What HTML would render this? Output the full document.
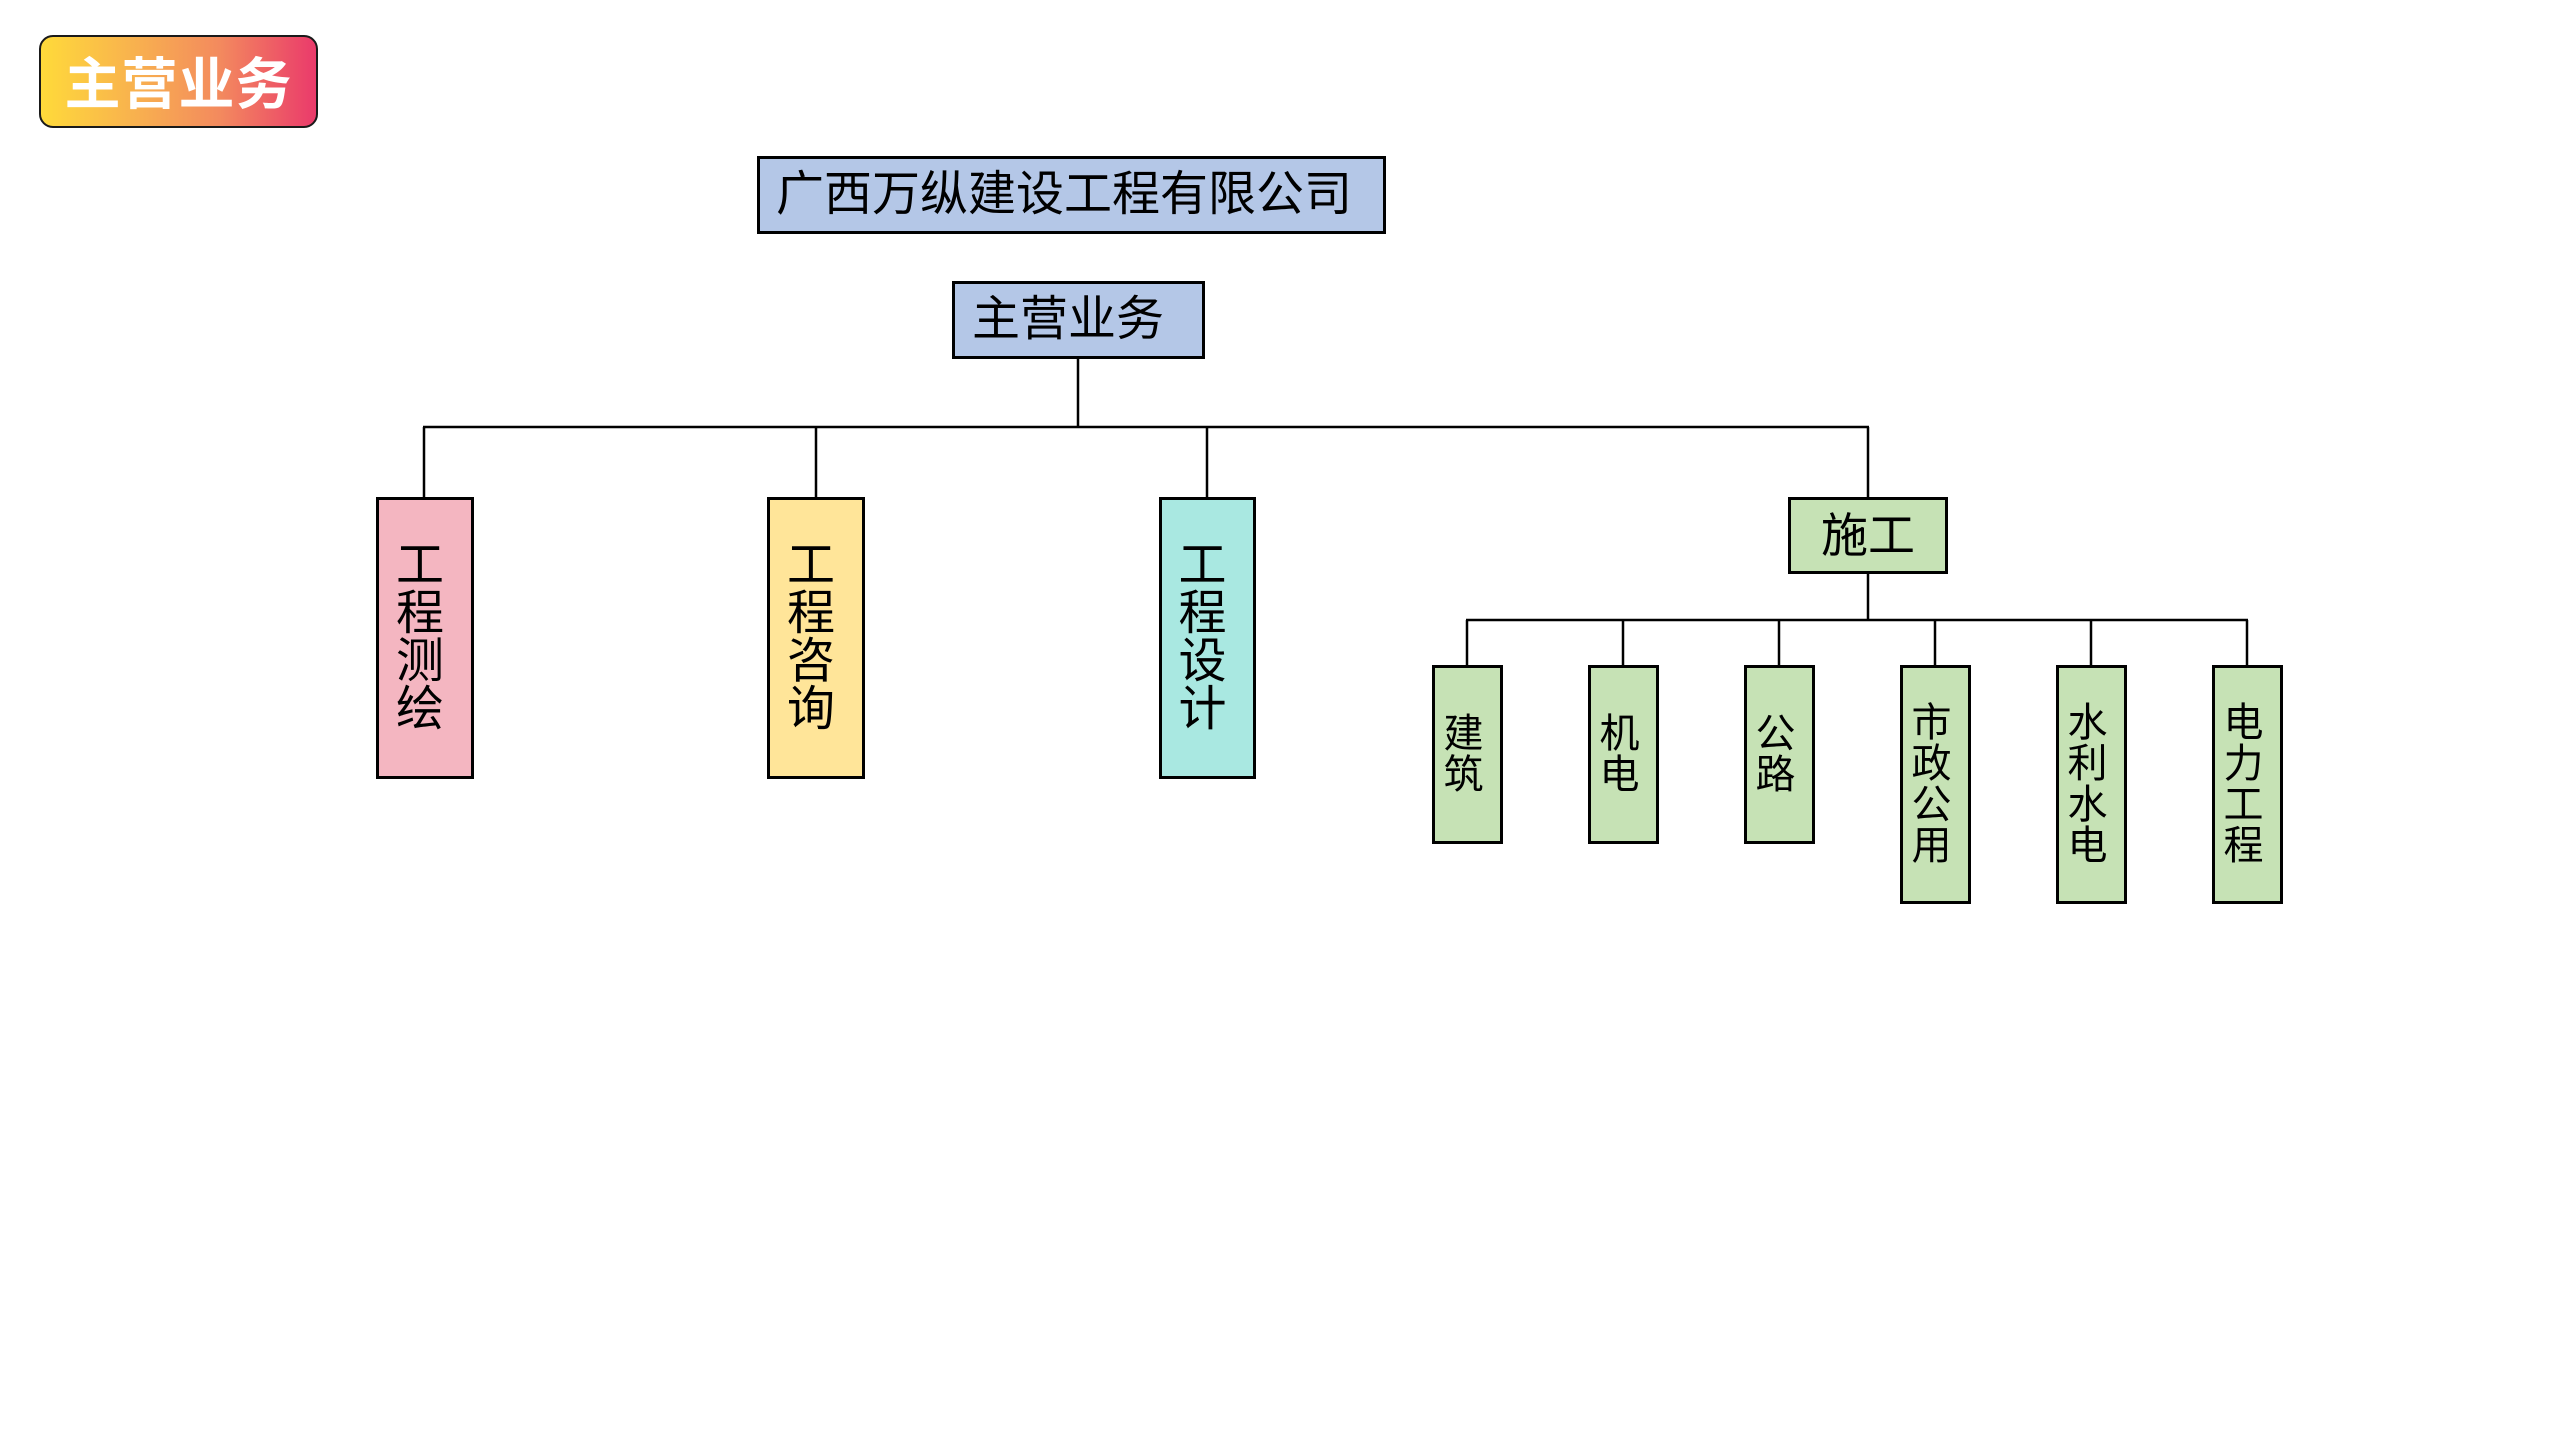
<!DOCTYPE html>
<html>
<head>
<meta charset="utf-8">
<style>
  html, body { margin:0; padding:0; background:#fff; }
  body { width:2560px; height:1440px; position:relative; overflow:hidden;
         font-family:"Liberation Sans","Noto Sans CJK SC",sans-serif; color:#000; }
  .box { position:absolute; box-sizing:border-box; border:3px solid #000; }
  .htext { position:absolute; display:flex; align-items:center; white-space:nowrap; line-height:1; }
  .vtext { position:absolute; left:0; right:0; top:0; bottom:0; display:flex; flex-direction:column;
           align-items:center; justify-content:center; line-height:1; }
  .vtext span { display:block; }
  .l2 .vtext { font-size:48px; left:-5px; right:5px; }
  .l3 .vtext { font-size:40px; left:-4px; right:4px; }
  .l3 .vtext span { height:41px; line-height:41px; }
  .badge { position:absolute; left:39px; top:35px; width:279px; height:93px; box-sizing:border-box;
           border:2.5px solid #1a1a1a; border-radius:14px;
           background:linear-gradient(90deg,#FFDA3A 0%,#F8B04F 35%,#F38A5E 65%,#EA3A6B 100%);
           color:#fff; font-weight:700; font-size:56px; display:flex; align-items:center; justify-content:center;
           letter-spacing:1px; }
</style>
</head>
<body>

<div class="badge"><span style="margin-top:-2px;">主营业务</span></div>

<svg width="2560" height="1440" style="position:absolute;left:0;top:0;" xmlns="http://www.w3.org/2000/svg">
  <g stroke="#000" stroke-width="2.5" fill="none">
    <line x1="1078" y1="359" x2="1078" y2="427"/>
    <line x1="423" y1="427" x2="1869" y2="427"/>
    <line x1="424" y1="427" x2="424" y2="497"/>
    <line x1="816" y1="427" x2="816" y2="497"/>
    <line x1="1207" y1="427" x2="1207" y2="497"/>
    <line x1="1868" y1="427" x2="1868" y2="497"/>
    <line x1="1868" y1="574" x2="1868" y2="620"/>
    <line x1="1466" y1="620" x2="2248" y2="620"/>
    <line x1="1467" y1="620" x2="1467" y2="665"/>
    <line x1="1623" y1="620" x2="1623" y2="665"/>
    <line x1="1779" y1="620" x2="1779" y2="665"/>
    <line x1="1935" y1="620" x2="1935" y2="665"/>
    <line x1="2091" y1="620" x2="2091" y2="665"/>
    <line x1="2247" y1="620" x2="2247" y2="665"/>
  </g>
</svg>

<!-- Company -->
<div class="box" style="left:757px;top:156px;width:629px;height:78px;background:#B4C7E7;"></div>
<div class="htext" style="left:776px;top:156px;height:78px;font-size:48px;">广西万纵建设工程有限公司</div>

<!-- 主营业务 -->
<div class="box" style="left:952px;top:281px;width:253px;height:78px;background:#B4C7E7;"></div>
<div class="htext" style="left:972px;top:281px;height:78px;font-size:48px;">主营业务</div>

<!-- Level 2 -->
<div class="box l2" style="left:376px;top:497px;width:98px;height:282px;background:#F4B6C1;">
  <div class="vtext"><span>工</span><span>程</span><span>测</span><span>绘</span></div>
</div>
<div class="box l2" style="left:767px;top:497px;width:98px;height:282px;background:#FFE599;">
  <div class="vtext"><span>工</span><span>程</span><span>咨</span><span>询</span></div>
</div>
<div class="box l2" style="left:1159px;top:497px;width:97px;height:282px;background:#A9E8E1;">
  <div class="vtext"><span>工</span><span>程</span><span>设</span><span>计</span></div>
</div>

<!-- 施工 -->
<div class="box" style="left:1788px;top:497px;width:160px;height:77px;background:#C6E2B5;"></div>
<div class="htext" style="left:1788px;top:497px;width:160px;height:77px;font-size:47px;justify-content:center;">施工</div>

<!-- Level 3 -->
<div class="box l3" style="left:1432px;top:665px;width:71px;height:179px;background:#C6E2B5;">
  <div class="vtext"><span>建</span><span>筑</span></div>
</div>
<div class="box l3" style="left:1588px;top:665px;width:71px;height:179px;background:#C6E2B5;">
  <div class="vtext"><span>机</span><span>电</span></div>
</div>
<div class="box l3" style="left:1744px;top:665px;width:71px;height:179px;background:#C6E2B5;">
  <div class="vtext"><span>公</span><span>路</span></div>
</div>
<div class="box l3" style="left:1900px;top:665px;width:71px;height:239px;background:#C6E2B5;">
  <div class="vtext"><span>市</span><span>政</span><span>公</span><span>用</span></div>
</div>
<div class="box l3" style="left:2056px;top:665px;width:71px;height:239px;background:#C6E2B5;">
  <div class="vtext"><span>水</span><span>利</span><span>水</span><span>电</span></div>
</div>
<div class="box l3" style="left:2212px;top:665px;width:71px;height:239px;background:#C6E2B5;">
  <div class="vtext"><span>电</span><span>力</span><span>工</span><span>程</span></div>
</div>

</body>
</html>
